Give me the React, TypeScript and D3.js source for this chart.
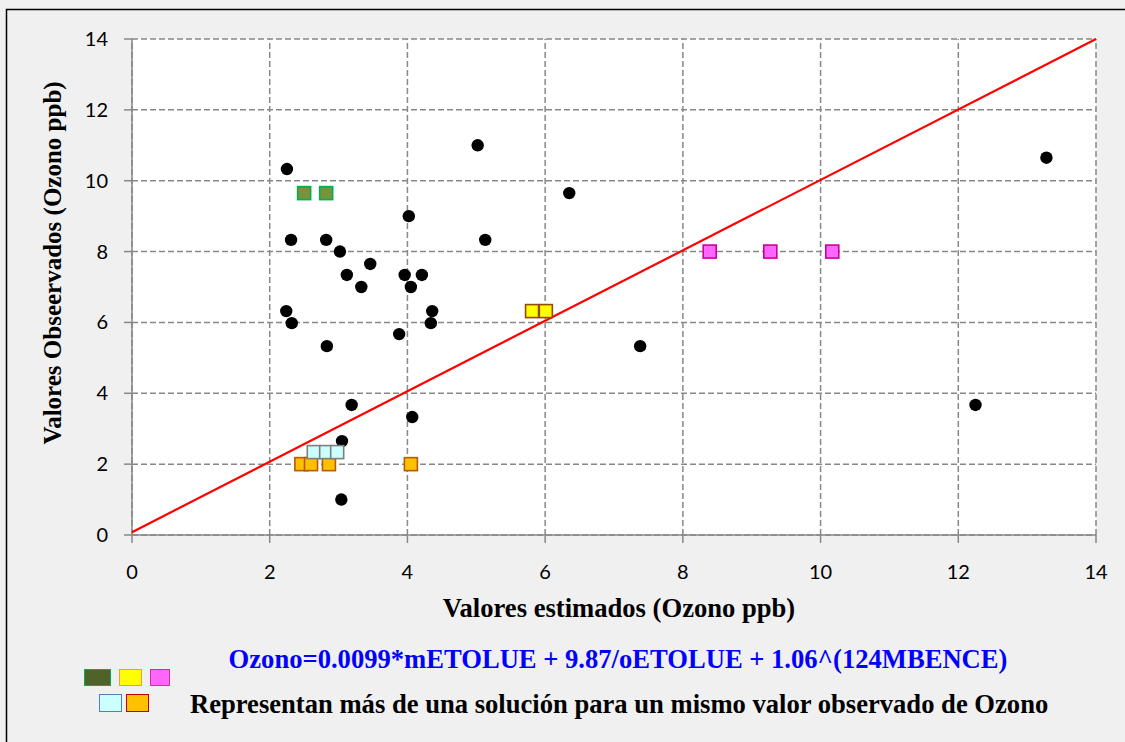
import React from "react";
import * as d3 from "d3";

const xTicks = [0, 2, 4, 6, 8, 10, 12, 14];
const yTicks = [0, 2, 4, 6, 8, 10, 12, 14];

const blackX = [2.25, 5.02, 13.28, 6.35, 4.02, 2.31, 2.82, 5.13, 3.02, 3.46, 3.12, 3.96, 4.21, 3.33, 4.05, 2.24, 4.36, 2.32, 4.34, 3.88, 2.83, 7.38, 3.19, 12.25, 4.07, 3.05, 3.04];
const blackY = [10.33, 11.0, 10.65, 9.65, 9.0, 8.33, 8.33, 8.33, 8.0, 7.65, 7.34, 7.34, 7.34, 7.0, 7.0, 6.32, 6.32, 5.98, 5.98, 5.67, 5.33, 5.33, 3.67, 3.67, 3.33, 2.65, 1.0];

const greenX = [2.5, 2.82];
const greenY = [9.65, 9.65];
const yellowX = [5.81, 6.01];
const yellowY = [6.32, 6.32];
const pinkX = [8.39, 9.27, 10.17];
const pinkY = [8.0, 8.0, 8.0];
const orangeX = [2.46, 2.6, 2.86, 4.05];
const orangeY = [2.0, 2.0, 2.0, 2.0];
const cyanX = [2.64, 2.82, 2.98];
const cyanY = [2.34, 2.34, 2.34];

const lineX = [0, 14];
const lineY = [0.08, 14];

const xTitle = "Valores estimados (Ozono ppb)";
const yTitle = "Valores Obseervados (Ozono ppb)";
const equation = "Ozono=0.0099*mETOLUE + 9.87/oETOLUE + 1.06^(124MBENCE)";
const note = "Representan más de una solución para un mismo valor observado de Ozono";

export default function App() {
  const W = 1125, H = 742;
  const x = d3.scaleLinear().domain([0, 14]).range([132, 1096]);
  const y = d3.scaleLinear().domain([0, 14]).range([535, 39]);
  const line = d3.line<number>().x((d) => x(lineX[d])).y((d) => y(lineY[d]));
  const sq = 13;
  const squares = (xs: number[], ys: number[], fill: string, stroke: string, key: string) =>
    xs.map((v, i) => (
      <rect key={key + i} x={x(v) - sq / 2} y={y(ys[i]) - sq / 2} width={sq} height={sq} fill={fill} stroke={stroke} strokeWidth={1.6} />
    ));
  const tickFont = "Lato, 'Open Sans', sans-serif";
  const serif = "'Liberation Serif', 'Times New Roman', serif";
  return (
    <svg width={W} height={H} style={{ position: "absolute", left: 0, top: 0 }}>
      <rect x={0} y={0} width={W} height={H} fill="#f0f0f0" />
      <rect x={6.5} y={9.5} width={W + 10} height={H + 10} fill="none" stroke="#000" strokeWidth={1.5} />
      <rect x={132} y={39} width={964} height={496} fill="#fff" />
      {xTicks.map((t) => (
        <line key={"gx" + t} x1={x(t)} x2={x(t)} y1={y(0)} y2={y(14)} stroke="#888" strokeWidth={1.5} strokeDasharray="6,3" />
      ))}
      {yTicks.map((t) => (
        <line key={"gy" + t} x1={x(0)} x2={x(14)} y1={y(t)} y2={y(t)} stroke="#888" strokeWidth={1.5} strokeDasharray="6,3" />
      ))}
      <line x1={x(0)} x2={x(0)} y1={y(0)} y2={y(14)} stroke="#888" strokeWidth={1.5} />
      <line x1={x(0)} x2={x(14)} y1={y(0)} y2={y(0)} stroke="#888" strokeWidth={1.5} />
      {xTicks.map((t) => (
        <g key={"tx" + t}>
          <line x1={x(t)} x2={x(t)} y1={y(0)} y2={y(0) + 8} stroke="#888" strokeWidth={1.5} />
          <text x={x(t)} y={579} textAnchor="middle" fontFamily={tickFont} fontSize={20} fill="#000">{t}</text>
        </g>
      ))}
      {yTicks.map((t) => (
        <g key={"ty" + t}>
          <line x1={x(0) - 8} x2={x(0)} y1={y(t)} y2={y(t)} stroke="#888" strokeWidth={1.5} />
          <text x={108} y={y(t) + 7} textAnchor="end" fontFamily={tickFont} fontSize={20} fill="#000">{t}</text>
        </g>
      ))}
      <path d={line([0, 1]) || ""} stroke="#ff0000" strokeWidth={2.2} fill="none" />
      {blackX.map((v, i) => (
        <circle key={"b" + i} cx={x(v)} cy={y(blackY[i])} r={6.2} fill="#000" />
      ))}
      {squares(greenX, greenY, "#77933c", "#00b050", "g")}
      {squares(yellowX, yellowY, "#ffff00", "#984807", "yl")}
      {squares(pinkX, pinkY, "#ff66ff", "#cc0099", "p")}
      {squares(orangeX, orangeY, "#ffc000", "#b45a0a", "o")}
      {squares(cyanX, cyanY, "#ccffff", "#7f7f7f", "c")}
      <text x={619} y={617} textAnchor="middle" fontFamily={serif} fontWeight="bold" fontSize={26.6} fill="#000">{xTitle}</text>
      <text transform={`translate(61,263) rotate(-90)`} textAnchor="middle" fontFamily={serif} fontWeight="bold" fontSize={25} fill="#000">{yTitle}</text>
      <text x={618} y={668} textAnchor="middle" fontFamily={serif} fontWeight="bold" fontSize={26.6} fill="#0000ff">{equation}</text>
      <text x={190} y={713} fontFamily={serif} fontWeight="bold" fontSize={26.6} fill="#000">{note}</text>
      <rect x={84.5} y={669.5} width={26} height={16} fill="#4f6228" stroke="#00b050" strokeWidth={1} />
      <rect x={119.5} y={669.5} width={22} height={16} fill="#ffff00" stroke="#f79646" strokeWidth={1} />
      <rect x={150.5} y={669.5} width={19} height={16} fill="#ff66ff" stroke="#cc3399" strokeWidth={1} />
      <rect x={99.5} y={694.5} width={22} height={17} fill="#ccffff" stroke="#4f81bd" strokeWidth={1} />
      <rect x={126.5} y={694.5} width={22} height={17} fill="#ffc000" stroke="#c00000" strokeWidth={1} />
    </svg>
  );
}
